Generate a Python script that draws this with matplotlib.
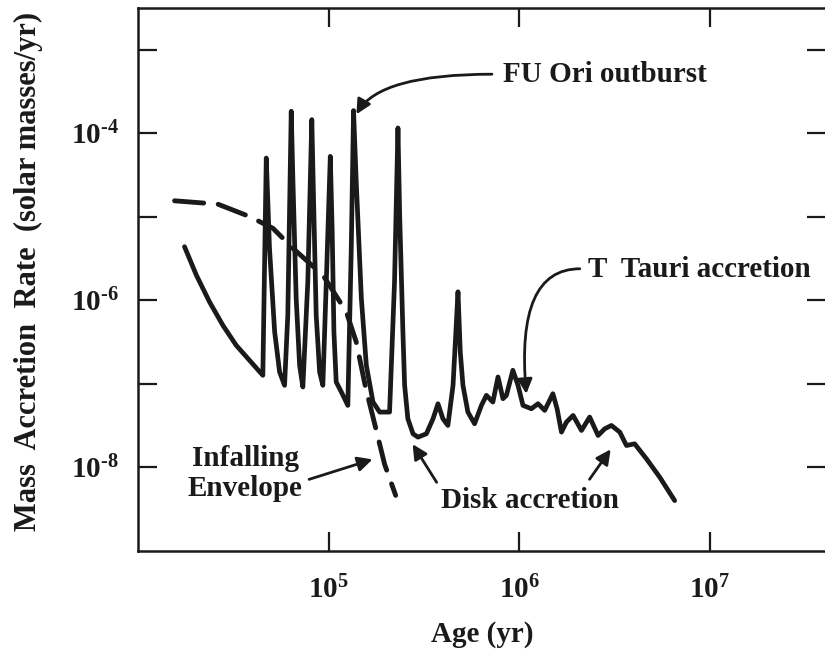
# Mass accretion rate vs age for a young star (FU Ori / T Tauri phases)
import numpy as np
import matplotlib
matplotlib.use("Agg")
import matplotlib.pyplot as plt
from matplotlib.ticker import FixedLocator, FuncFormatter, NullLocator

# --- data (log10 values) ---
# solid curve: disk accretion with outbursts
log_age_disk = [4.244, 4.306, 4.375, 4.445, 4.515, 4.585, 4.655,
                4.673, 4.690, 4.717, 4.743, 4.769,
                4.786, 4.804, 4.813, 4.830, 4.848, 4.865,
                4.891, 4.912, 4.921, 4.935, 4.953, 4.970,
                4.988, 5.009, 5.019, 5.028, 5.040, 5.067, 5.101,
                5.119, 5.131, 5.145, 5.172, 5.198, 5.233, 5.268, 5.320,
                5.346, 5.364, 5.373, 5.390,
                5.399, 5.416, 5.443, 5.469, 5.513, 5.548, 5.574, 5.600, 5.626, 5.653,
                5.667, 5.679, 5.691, 5.705, 5.731, 5.766, 5.802, 5.828, 5.862, 5.889,
                5.915, 5.933, 5.967, 5.994, 6.020, 6.064, 6.099, 6.134, 6.177, 6.199,
                6.222, 6.248, 6.283, 6.327, 6.370, 6.414, 6.449, 6.484, 6.528, 6.563,
                6.606, 6.668, 6.738, 6.816]
log_rate_disk = [-5.357, -5.697, -6.017, -6.297, -6.537, -6.717, -6.897,
                 -4.296, -5.377, -6.377, -6.857, -7.017,
                 -6.177, -3.736, -4.576, -5.977, -6.777, -7.037,
                 -5.777, -3.836, -4.777, -6.177, -6.857, -7.017,
                 -5.777, -4.276, -5.176, -6.377, -6.977, -7.097, -7.257,
                 -5.377, -3.728, -4.576, -5.977, -6.777, -7.217, -7.337, -7.337,
                 -5.777, -3.936, -4.976, -6.377,
                 -7.017, -7.417, -7.597, -7.637, -7.597, -7.417, -7.237, -7.417, -7.497, -7.017,
                 -6.417, -5.897, -6.617, -7.017, -7.337, -7.477, -7.257, -7.137, -7.217, -6.917,
                 -7.177, -7.137, -6.837, -7.017, -7.257, -7.297, -7.237, -7.317, -7.117, -7.297,
                 -7.577, -7.457, -7.377, -7.557, -7.397, -7.617, -7.537, -7.497, -7.577, -7.737,
                 -7.717, -7.897, -8.118, -8.397]

# dashed curve: infall from the envelope
log_age_env = [4.192, 4.419, 4.585, 4.708, 4.813, 4.970, 5.093, 5.145, 5.194, 5.250, 5.294, 5.352]
log_rate_env = [-4.808, -4.848, -4.996, -5.137, -5.377, -5.697, -6.137, -6.497, -7.04, -7.553, -7.962, -8.334]

x_ticks = [1e5, 1e6, 1e7]
y_ticks = [1e-3, 1e-4, 1e-5, 1e-6, 1e-7, 1e-8]
y_labeled = [-4, -6, -8]

age_disk = np.power(10.0, log_age_disk)
rate_disk = np.power(10.0, log_rate_disk)
age_env = np.power(10.0, log_age_env)
rate_env = np.power(10.0, log_rate_env)

plt.rcParams['font.family'] = ['Liberation Serif', 'DejaVu Serif']
plt.rcParams['font.weight'] = 'bold'
plt.rcParams['mathtext.fontset'] = 'custom'
plt.rcParams['mathtext.rm'] = 'Liberation Serif:bold'
plt.rcParams['mathtext.it'] = 'Liberation Serif:bold'
plt.rcParams['mathtext.bf'] = 'Liberation Serif:bold'

ink = '#1a1a1a'
fs = 21


def decade_label(v):
    # hyphen instead of a long minus, like the printed figure
    e = int(round(np.log10(v)))
    if e < 0:
        return r'$10^{\text{-}%d}$' % (-e)
    return r'$10^{%d}$' % e


fig = plt.figure(figsize=(8.25, 6.59), dpi=100)
ax = fig.add_axes([138 / 825, 1 - 551 / 659, 688 / 825, 543 / 659])

ax.plot(age_env, rate_env, color=ink, lw=3.5, linestyle=(0, (6, 3.0)),
        dash_capstyle='round')
ax.plot(age_disk, rate_disk, color=ink, lw=3.4, solid_joinstyle='round',
        solid_capstyle='round')

ax.set_xscale('log')
ax.set_yscale('log')
ax.set_xlim(1e4, 10 ** 7.61)
ax.set_ylim(1e-9, 10 ** -2.5)

ax.xaxis.set_major_locator(FixedLocator(x_ticks))
ax.xaxis.set_minor_locator(NullLocator())
ax.yaxis.set_major_locator(FixedLocator(y_ticks))
ax.yaxis.set_minor_locator(NullLocator())
ax.xaxis.set_major_formatter(FuncFormatter(lambda v, p: decade_label(v)))
ax.yaxis.set_major_formatter(FuncFormatter(
    lambda v, p: decade_label(v) if round(np.log10(v)) in y_labeled else ''))

ax.tick_params(which='major', direction='in', length=13.5, width=1.6,
               top=True, right=True, labelsize=fs, color=ink, labelcolor=ink)
ax.tick_params(axis='y', pad=14)
ax.tick_params(axis='x', pad=18)
for s in ax.spines.values():
    s.set_linewidth(1.8)
    s.set_color(ink)

ax.set_xlabel('Age (yr)', fontsize=fs, fontweight='bold', color=ink, labelpad=12)
ax.set_ylabel('Mass  Accretion  Rate  (solar masses/yr)', fontsize=22,
              fontweight='bold', color=ink)
ax.yaxis.set_label_coords(-0.138, 0.514)

arrow = dict(arrowstyle='-|>', color=ink, lw=2.0, mutation_scale=22,
             shrinkA=0, shrinkB=0)

# FU Ori outburst
ax.text(8.2e5, 5.1e-4, 'FU Ori outburst', fontsize=fs, fontweight='bold',
        color=ink, ha='left', va='center')
ax.annotate('', xy=(1.40e5, 1.69e-4), xytext=(7.2e5, 5.1e-4),
            arrowprops=dict(arrow, connectionstyle='angle3,angleA=0,angleB=60'))

# T Tauri accretion
ax.text(2.29e6, 2.33e-6, 'T  Tauri accretion', fontsize=fs, fontweight='bold',
        color=ink, ha='left', va='center')
ax.annotate('', xy=(1.09e6, 7.6e-8), xytext=(2.08e6, 2.39e-6),
            arrowprops=dict(arrow, connectionstyle='angle3,angleA=0,angleB=95'))

# Infalling Envelope
ax.text(3.66e4, 8.4e-9, 'Infalling\nEnvelope', fontsize=fs, fontweight='bold',
        color=ink, ha='center', va='center', linespacing=1.15)
ax.annotate('', xy=(1.70e5, 1.25e-8), xytext=(7.9e4, 7.2e-9),
            arrowprops=arrow)

# Disk accretion
ax.text(1.14e6, 4.04e-9, 'Disk accretion', fontsize=fs, fontweight='bold',
        color=ink, ha='center', va='center')
ax.annotate('', xy=(2.76e5, 1.90e-8), xytext=(3.69e5, 6.64e-9),
            arrowprops=arrow)
ax.annotate('', xy=(3.02e6, 1.65e-8), xytext=(2.34e6, 7.21e-9),
            arrowprops=arrow)

fig.savefig('out.png', dpi=100, facecolor='white')
